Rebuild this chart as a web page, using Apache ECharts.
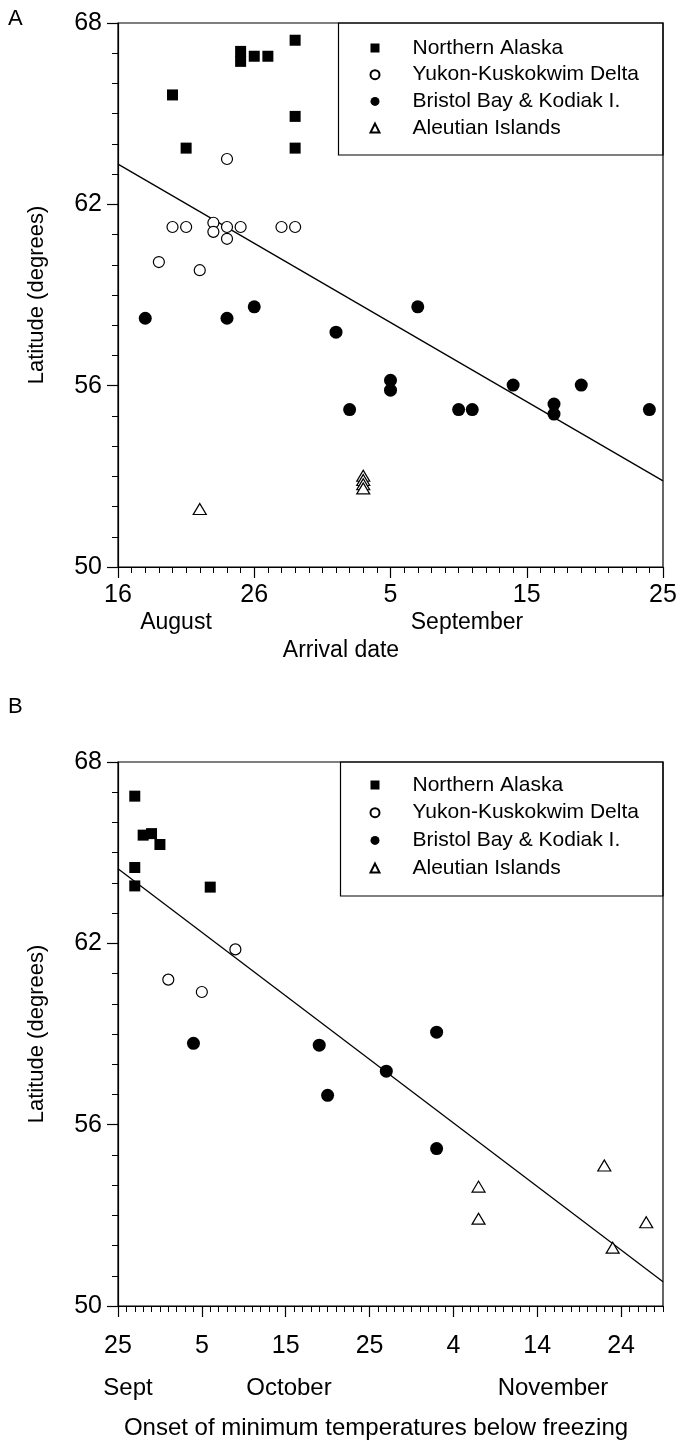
<!DOCTYPE html>
<html><head><meta charset="utf-8">
<script src="https://cdn.jsdelivr.net/npm/echarts@6/dist/echarts.min.js"></script>
<style>html,body{margin:0;padding:0;background:#fff}#c{width:681px;height:1444px}</style>
</head><body><div id="c"></div>
<script>
const seriesNames = ['Northern Alaska','Yukon-Kuskokwim Delta','Bristol Bay & Kodiak I.','Aleutian Islands'];
// Panel A: x = days after 16 August, y = latitude
const northernAlaskaA = [[4,65.62],[5,63.86],[9,67.06],[9,66.73],[10,66.90],[11,66.90],[13,67.43],[13,64.91],[13,63.86]];
const yukonA = [[3,60.09],[4,61.25],[5,61.25],[6,59.82],[7,61.39],[7,61.09],[8,63.50],[8,61.25],[8,60.86],[9,61.25],[12,61.25],[13,61.25]];
const bristolA = [[2,58.23],[8,58.23],[10,58.61],[16,57.77],[17,55.21],[20,56.18],[20,55.85],[22,58.61],[25,55.21],[26,55.21],[29,56.02],[32,55.39],[32,55.06],[34,56.02],[39,55.21]];
const aleutianA = [[6,51.92],[18,53.02],[18,52.88],[18,52.74],[18,52.60]];
const fitA = [[0,63.33],[40,52.85]];
// Panel B: x = days after 25 September, y = latitude
const northernAlaskaB = [[2,66.87],[3,65.58],[4,65.63],[5,65.27],[2,64.51],[2,63.90],[11,63.86]];
const yukonB = [[6,60.80],[10,60.39],[14,61.80]];
const bristolB = [[9,58.69],[24,58.63],[25,56.97],[32,57.77],[38,59.06],[38,55.21]];
const aleutianB = [[43,53.95],[43,52.89],[58,54.65],[59,51.93],[63,52.77]];
const fitB = [[0,64.47],[65,50.80]];

const xTicksA = [0,10,20,30,40];
const xTickLabelsA = ['16','26','5','15','25'];
const xTicksB = [0,10,20,30,40,50,60];
const xTickLabelsB = ['25','5','15','25','4','14','24'];
const yTicks = [50,56,62,68];
const yTickLabels = ['50','56','62','68'];
const monthsA = ['August','September'];
const monthsB = ['Sept','October','November'];
const xTitles = ['Arrival date', 'Onset of minimum temperatures below freezing'];
const yTitle = 'Latitude (degrees)';

const FONT = '"Liberation Sans", Arial, sans-serif';
const chart = echarts.init(document.getElementById('c'), null, {renderer:'canvas'});

const grids = [
  {left:118, top:23, width:545, height:544, show:true, borderColor:'#000', borderWidth:1.2},
  {left:118, top:762, width:545, height:544, show:true, borderColor:'#000', borderWidth:1.2}
];
const xMax = [40, 65];
const xTicks = [xTicksA, xTicksB];
const xLabels = [xTickLabelsA, xTickLabelsB];
const xLabelMargin = [16, 28];

const xAxes = [], yAxes = [];
[0,1].forEach(g => {
  xAxes.push({gridIndex:g, type:'value', position:'bottom', min:0, max:xMax[g], interval:1,
    axisLine:{show:true, lineStyle:{color:'#000', width:1.2}},
    axisTick:{show:true, length:6, lineStyle:{color:'#000', width:1}},
    axisLabel:{show:false}, splitLine:{show:false}});
  xAxes.push({gridIndex:g, type:'value', position:'bottom', min:0, max:xMax[g], interval:10,
    axisLine:{show:false},
    axisTick:{show:true, length:11, customValues:xTicks[g], lineStyle:{color:'#000', width:1.2}},
    axisLabel:{show:true, customValues:xTicks[g], margin:xLabelMargin[g], color:'#000', fontSize:25, fontFamily:FONT,
      formatter: v => { const i = xTicks[g].indexOf(v); return i >= 0 ? xLabels[g][i] : ''; }},
    splitLine:{show:false}});
  yAxes.push({gridIndex:g, type:'value', position:'left', min:50, max:68, interval:1,
    axisLine:{show:true, lineStyle:{color:'#000', width:1.2}},
    axisTick:{show:true, length:6, lineStyle:{color:'#000', width:1}},
    axisLabel:{show:false}, splitLine:{show:false}});
  yAxes.push({gridIndex:g, type:'value', position:'left', min:50, max:68, interval:6,
    axisLine:{show:false},
    axisTick:{show:true, length:11, lineStyle:{color:'#000', width:1.2}},
    axisLabel:{show:true, margin:16, color:'#000', fontSize:25, fontFamily:FONT,
      formatter: v => { const i = yTicks.indexOf(v); return i >= 0 ? yTickLabels[i] : ''; }},
    splitLine:{show:false},
    name:yTitle, nameLocation:'middle', nameGap:70, nameRotate:90,
    nameTextStyle:{color:'#000', fontSize:22, fontFamily:FONT}});
});

const styles = [
  {symbol:'rect', symbolSize:11, itemStyle:{color:'#000', borderColor:'#000', borderWidth:0, opacity:1}},
  {symbol:'circle', symbolSize:11, itemStyle:{color:'#fff', borderColor:'#000', borderWidth:1.2, opacity:1}},
  {symbol:'circle', symbolSize:13, itemStyle:{color:'#000', borderColor:'#000', borderWidth:0, opacity:1}},
  {symbol:'triangle', symbolSize:[13,11], itemStyle:{color:'#fff', borderColor:'#000', borderWidth:1.2, opacity:1}}
];
const dataSets = [[northernAlaskaA, yukonA, bristolA, aleutianA],[northernAlaskaB, yukonB, bristolB, aleutianB]];
const fits = [fitA, fitB];
const series = [];
[0,1].forEach(g => {
  series.push({type:'line', name:'fit'+g, xAxisIndex:g*2, yAxisIndex:g*2, data:fits[g], showSymbol:false,
    lineStyle:{color:'#000', width:1.3}, silent:true, z:1, animation:false});
  dataSets[g].forEach((d,i) => {
    series.push(Object.assign({type:'scatter', name:seriesNames[i], xAxisIndex:g*2, yAxisIndex:g*2,
      data:d, z:2+i, animation:false}, JSON.parse(JSON.stringify(styles[i]))));
  });
});

const legendBase = (top, gap) => ({
  orient:'vertical', left:369.5, top:top, padding:0, itemWidth:9, itemHeight:9, itemGap:gap,
  selectedMode:false,
  data:seriesNames.map(n => ({name:n})),
  textStyle:{color:'#000', fontSize:21, lineHeight:22, fontFamily:FONT, padding:[0,0,0,28]}
});

const textAt = (txt, cx, cy, size) => ({type:'text', x:cx, y:cy,
  style:{text:txt, fill:'#000', font:size + 'px ' + FONT, textAlign:'center', textVerticalAlign:'middle'}});

const graphics = [
  {type:'rect', shape:{x:338.5, y:23, width:324.5, height:132}, style:{fill:'none', stroke:'#000', lineWidth:1.2}},
  {type:'rect', shape:{x:340.5, y:762, width:322.5, height:134}, style:{fill:'none', stroke:'#000', lineWidth:1.2}},
  {type:'text', x:8, y:8, style:{text:'A', fill:'#000', font:'22px ' + FONT}},
  {type:'text', x:8, y:696, style:{text:'B', fill:'#000', font:'22px ' + FONT}},
  textAt(monthsA[0], 176, 623, 23),
  textAt(monthsA[1], 467, 623, 23),
  textAt(xTitles[0], 341, 651, 23),
  textAt(monthsB[0], 128, 1388, 24),
  textAt(monthsB[1], 289, 1388, 24),
  textAt(monthsB[2], 553, 1388, 24),
  textAt(xTitles[1], 376, 1428, 24)
];

chart.setOption({
  animation:false,
  backgroundColor:'#fff',
  grid:grids, xAxis:xAxes, yAxis:yAxes, series:series,
  legend:[legendBase(37, 4.7), legendBase(774, 5.7)],
  graphic:graphics
});
</script></body></html>
